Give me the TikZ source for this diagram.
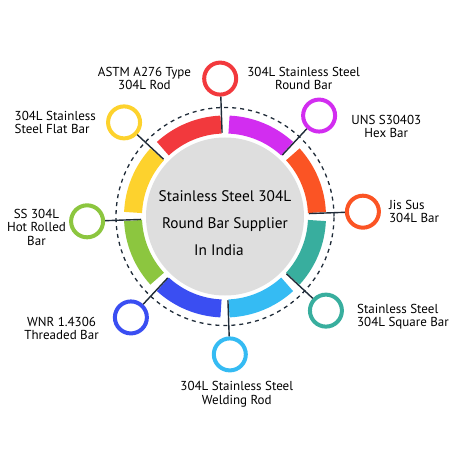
\documentclass[tikz,border=0pt]{standalone}
\usepackage{fontspec}
\setmainfont{PT Sans}
\usetikzlibrary{positioning}

\definecolor{ssred}{HTML}{F2393D}
\definecolor{ssmagenta}{HTML}{D22DF0}
\definecolor{ssorange}{HTML}{FB5424}
\definecolor{ssteal}{HTML}{38AE9E}
\definecolor{sslblue}{HTML}{35BBF3}
\definecolor{ssblue}{HTML}{3A4EF2}
\definecolor{ssgreen}{HTML}{8CC63F}
\definecolor{ssyellow}{HTML}{FDD22D}
\definecolor{hubgray}{HTML}{DEDEDE}
\definecolor{spokecol}{HTML}{1F2B38}

\tikzset{
  seg/.style={line width=18pt},
  bead/.style={circle, draw=#1, line width=4pt, fill=white,
    minimum size=32pt, inner sep=0pt},
  spoke/.style={draw=spokecol, line width=1.4pt},
  lbl/.style={font=\fontsize{13}{13.5}\selectfont, inner sep=0pt, align=center},
}

\begin{document}
\begin{tikzpicture}[x=1pt,y=1pt]
  \useasboundingbox (-225,-233.5) rectangle (225,216.5);

  % ── Hub and text ─────────────────────────────────────────────
  \node[circle, fill=hubgray, minimum size=158pt, inner sep=0pt,
        outer sep=5pt] (hub) at (0,0) {};
  \node[font=\fontsize{15.3}{27}\selectfont, align=center]
        (hubtext) at ([yshift=-7pt]hub.center)
        {Stainless Steel 304L\\Round Bar Supplier\\In India\hspace*{12pt}};

  % ── Coloured ring segments ───────────────────────────────────
  \foreach \a/\c in {0/ssorange,45/ssmagenta,90/ssred,135/ssyellow,
                     180/ssgreen,225/ssblue,270/sslblue,315/ssteal}
    \draw[seg,\c] ({\a+2.5}:92) arc[start angle=\a+2.5, end angle=\a+42.5, radius=92];

  % ── Dashed guide circle ──────────────────────────────────────
  \draw[spokecol, line width=1.3pt, dash pattern=on 4pt off 4pt]
    (0,0) circle[radius=109];

  % ── Beads on the spokes ──────────────────────────────────────
  \foreach \a/\c/\n in {2/ssorange/cora,47/ssmagenta/cmag,92/ssred/cred,
                        137/ssyellow/cyel,182/ssgreen/cgrn,227/ssblue/cblu,
                        272/sslblue/clbl,317/ssteal/ctea}
  {
    \node[bead=\c] (\n) at (\a:138) {};
    \draw[spoke] (hub) -- (\n);
  }

  % ── Labels ───────────────────────────────────────────────────
  \node[lbl, left=11pt of cred]                 (tastm)  {ASTM A276 Type\\304L Rod};
  \node[lbl, right=9pt of cred]                 (tround) {304L Stainless Steel\\Round Bar};
  \node[lbl, right=14pt of cmag, yshift=-11pt]  (thex)   {UNS S30403\\Hex Bar};
  \node[lbl, align=left, right=8pt of cora]     (tjis)   {Jis Sus\\304L Bar};
  \node[lbl, align=left, right=13pt of ctea, yshift=-6pt] (tsq) {Stainless Steel\\304L Square Bar};
  \node[lbl, below=9pt of clbl, xshift=7pt]     (tweld)  {304L Stainless Steel\\Welding Rod};
  \node[lbl, left=14pt of cblu, yshift=-11pt]   (twnr)   {WNR 1.4306\\Threaded Bar};
  \node[lbl, left=3pt of cgrn, yshift=-6pt]     (thot)   {SS 304L\\Hot Rolled\\Bar};
  \node[lbl, align=left, left=10pt of cyel]     (tflat)  {304L Stainless\\Steel Flat Bar};

\end{tikzpicture}
\end{document}
